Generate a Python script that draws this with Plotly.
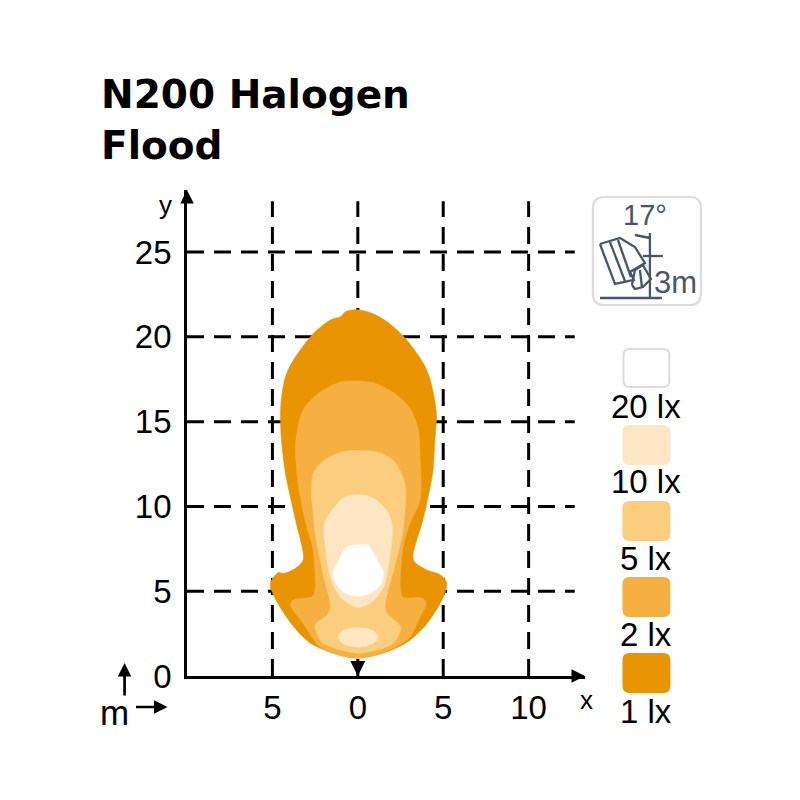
import plotly.graph_objects as go

# ---- data (metres) ----
title_lines = ["N200 Halogen", "Flood"]
lux_labels = ["20 lx", "10 lx", "5 lx", "2 lx", "1 lx"]
lux_colors = ["#ffffff", "#fde6c4", "#fbcd7e", "#f5b041", "#e89403"]
x_ticks = [-5, 0, 5, 10]
x_tick_text = ["5", "0", "5", "10"]
y_ticks = [0, 5, 10, 15, 20, 25]

x_1lx = [0, 0.8, 1.7, 2.7, 3.8, 4.2, 4.6, 4.5, 4.4, 4.0, 3.75, 3.25, 3.95, 4.5, 4.85, 5.2, 5.0, 4.05, 2.9, 1.5, 0,
         -1.45, -2.8, -3.75, -4.7, -5.1, -5.1, -4.65, -4.35, -3.65, -3.2, -3.65, -4.05, -4.25, -4.5, -4.5, -4.25, -3.85, -2.6, -1.6, -1.0, -0.7]
y_1lx = [21.6, 21.4, 20.9, 20.0, 18.5, 17.6, 15.5, 13.7, 12.1, 10.0, 9.0, 6.85, 6.3, 6.1, 5.95, 5.5, 4.65, 3.1, 2.0, 1.35, 1.05,
         1.35, 1.95, 2.9, 4.3, 5.2, 5.55, 6.1, 6.05, 6.35, 6.85, 9.2, 11.0, 12.0, 14.3, 16.1, 17.6, 18.5, 20.2, 21.0, 21.2, 21.5]

x_2lx = [-0.3, 0.9, 2.1, 3.05, 3.55, 3.65, 3.65, 3.05, 2.65, 2.5, 2.65, 3.75, 4.0, 3.65, 3.05, 2.2, 0.9, 0,
         -1.0, -2.2, -3.2, -3.95, -3.75, -2.65, -2.5, -2.65, -3.05, -3.45, -3.6, -3.65, -3.2, -2.2, -1.0]
y_2lx = [17.4, 17.3, 16.7, 15.8, 14.5, 12.9, 10.4, 9.0, 7.6, 5.1, 4.65, 4.6, 4.3, 3.5, 2.3, 1.7, 1.2, 1.05,
         1.2, 1.7, 3.1, 4.2, 4.5, 4.7, 5.2, 7.6, 9.0, 11.0, 12.4, 13.7, 15.7, 16.75, 17.35]

x_5lx = [0, 1.15, 2.1, 2.65, 2.8, 2.65, 2.1, 1.6, 1.7, 2.5, 2.1, 0, -2.0, -2.2, -2.5, -1.8, -1.6, -2.0, -2.5, -2.65, -2.7, -2.6, -2.0, -1.0]
y_5lx = [13.3, 13.2, 12.7, 11.7, 11.0, 8.6, 6.25, 4.2, 3.7, 2.9, 1.95, 1.35, 1.9, 2.1, 3.0, 3.6, 4.1, 5.85, 8.4, 10.0, 10.4, 12.0, 12.7, 13.2]

x_10lx_a = [0, 0.75, 1.5, 2.0, 1.9, 1.5, 0.75, 0, -0.85, -1.5, -1.9, -1.95, -1.5, -0.85]
y_10lx_a = [10.7, 10.55, 10.0, 9.0, 7.25, 5.25, 4.3, 4.05, 4.5, 5.5, 7.6, 9.0, 9.8, 10.5]
x_10lx_b = [0, 0.85, 1.2, 0.85, 0, -0.85, -1.15, -0.85]
y_10lx_b = [2.85, 2.7, 2.3, 1.9, 1.7, 1.9, 2.3, 2.7]

x_20lx = [-0.3, 0.6, 0.9, 1.2, 1.5, 1.3, 0.75, 0, -0.75, -1.3, -1.45, -1.15, -0.9, -0.65]
y_20lx = [7.7, 7.7, 7.25, 6.7, 6.1, 5.35, 4.9, 4.7, 4.9, 5.5, 6.1, 6.7, 7.25, 7.6]

# ---- page geometry ----
L, R, T, B = 186.5, 585, 190, 676
def X(p): return (p - L) / (R - L)
def Y(p): return (B - p) / (B - T)

FONT = "Liberation Sans"
ICON = "#475669"
fig = go.Figure()

# dashed grid
grid_x, grid_y = [], []
for v in [-5, 0, 5, 10]:
    grid_x += [v, v, None]; grid_y += [0, 28.0, None]
gridh_x, gridh_y = [], []
for v in [5, 10, 15, 20, 25]:
    gridh_x += [-10, 12.7, None]; gridh_y += [v, v, None]
line = dict(color="black", width=3, dash="17px,10px")
fig.add_trace(go.Scatter(x=grid_x, y=grid_y, mode="lines", line=line, hoverinfo="skip", showlegend=False))
fig.add_trace(go.Scatter(x=gridh_x, y=gridh_y, mode="lines", line=line, hoverinfo="skip", showlegend=False))

# isolux contours
contours = [(x_1lx, y_1lx, lux_colors[4]), (x_2lx, y_2lx, lux_colors[3]), (x_5lx, y_5lx, lux_colors[2]),
            (x_10lx_a, y_10lx_a, lux_colors[1]), (x_10lx_b, y_10lx_b, lux_colors[1]), (x_20lx, y_20lx, lux_colors[0])]
for xs, ys, c in contours:
    fig.add_trace(go.Scatter(x=xs + xs[:1], y=ys + ys[:1], mode="lines", fill="toself", fillcolor=c,
                             line=dict(color=c, width=0.5, shape="spline", smoothing=0.85),
                             hoverinfo="skip", showlegend=False))

def rrect(x0, y0, x1, y1, r):
    a, b, c, d = X(x0), X(x1), Y(y0), Y(y1)
    rx, ry = r / (R - L), r / (B - T)
    return (f"M{a+rx},{c} L{b-rx},{c} Q{b},{c} {b},{c-ry} L{b},{d+ry} Q{b},{d} {b-rx},{d} "
            f"L{a+rx},{d} Q{a},{d} {a},{d+ry} L{a},{c-ry} Q{a},{c} {a+rx},{c} Z")

def poly(pts):
    return "M" + " L".join(f"{X(a)},{Y(b)}" for a, b in pts)

shapes = []
# legend swatches
sw_tops = [349, 426, 502, 578, 654]
for top, col in zip(sw_tops, lux_colors):
    border = "#dcdcdc" if col == "#ffffff" else col
    shapes.append(dict(type="path", xref="paper", yref="paper", path=rrect(623.5, top, 669.5, top + 38, 6),
                       fillcolor=col, line=dict(color=border, width=2)))
# lamp icon
shapes.append(dict(type="path", xref="paper", yref="paper", path=rrect(593, 197, 701, 305, 11),
                   fillcolor="rgba(0,0,0,0)", line=dict(color="#dcdcdc", width=2.2)))
icon_paths = [
    [(600, 298), (662, 298)], [(650, 233), (650, 297)], [(643, 256), (663, 256)],
    [(600, 244), (620, 238), (635, 247), (645, 263), (630, 272), (634, 280), (615, 284), (600, 244)],
    [(610, 242), (625, 281)], [(618, 240), (631, 277)],
    [(632, 285), (635, 270), (643, 265), (651, 279), (643, 287), (635, 289), (632, 285)],
    [(640, 270), (642, 287)], [(635, 235), (650, 238)],
]
for p in icon_paths:
    shapes.append(dict(type="path", xref="paper", yref="paper", path=poly(p),
                       line=dict(color=ICON, width=2.3)))

anns = []
def text(s, px, py, size, color="black", anchor="center", family=FONT):
    anns.append(dict(text=s, x=X(px), y=Y(py), xref="paper", yref="paper", showarrow=False,
                     xanchor=anchor, yanchor="middle", font=dict(family=family, size=size, color=color)))
for lab, py in zip(lux_labels, [406, 482, 558, 634, 711]):
    text(lab, 646.5, py, 33)
text("17°", 645, 215, 29, ICON)
text("3m", 676, 282, 31, ICON)
text("y", 165, 205, 26)
text("x", 587, 700, 26)
text("m", 114, 712, 35)

def arrow(x0, y0, x1, y1, w=2.7, size=1.0):
    anns.append(dict(x=X(x1), y=Y(y1), ax=x0 - x1, ay=y0 - y1, xref="paper", yref="paper", axref="pixel", ayref="pixel",
                     text="", showarrow=True, arrowhead=2, arrowsize=size, arrowwidth=w, arrowcolor="black"))
arrow(L, 200, L, 190)
arrow(575, B, 585, B)
arrow(124, 697, 124, 663)
arrow(134, 707, 167, 707)
arrow(357.5, 660, 357.5, 676, 3.0)

for line_text, py in zip(title_lines, [95, 145]):
    text(f"<b>{line_text}</b>", 98, py, 39, "black", "left", "DejaVu Sans")

tick = dict(family=FONT, size=33, color="black")
fig.update_layout(
    width=800, height=800, margin=dict(l=L, r=800 - R, t=T, b=800 - B, autoexpand=False),
    paper_bgcolor="white", plot_bgcolor="white", shapes=shapes, annotations=anns, showlegend=False,
    xaxis=dict(range=[-10, 13.3], tickvals=x_ticks, ticktext=x_tick_text, showgrid=False, zeroline=False,
               showline=True, linecolor="black", linewidth=2.7, ticks="", ticklabelstandoff=1, tickfont=tick),
    yaxis=dict(range=[0, 28.66], tickvals=y_ticks, showgrid=False, zeroline=False,
               showline=True, linecolor="black", linewidth=2.7, ticks="", ticklabelstandoff=6, tickfont=tick),
)
fig.write_html("out.html", config={"displayModeBar": False},
               post_script="document.body.style.margin='0';document.body.style.overflow='hidden';")
